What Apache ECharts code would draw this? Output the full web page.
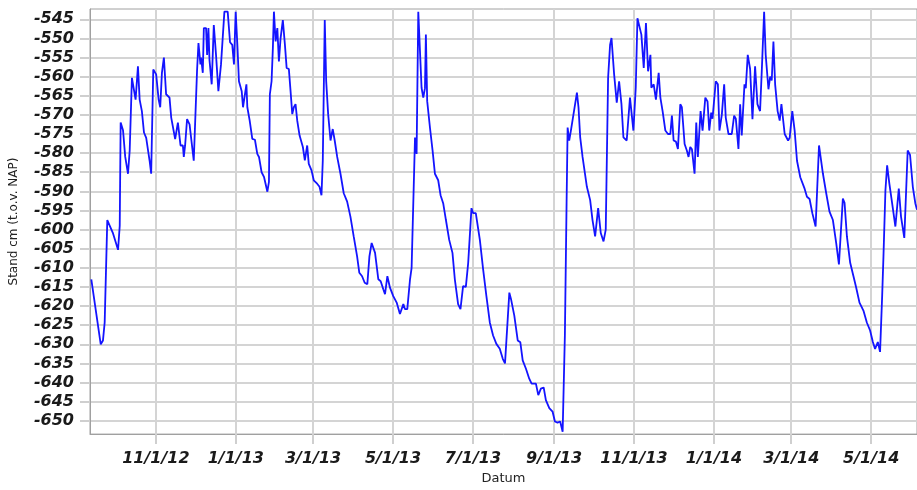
<!DOCTYPE html>
<html>
<head>
<meta charset="utf-8">
<script src="https://cdn.jsdelivr.net/npm/echarts@6/dist/echarts.min.js"></script>
<style>
  html, body { margin: 0; padding: 0; background: #fff; }
  #chart { width: 917px; height: 490px; }
</style>
</head>
<body>
<div id="chart"></div>
<script>
// days since 1 Nov 2012
const days = [-49.3,-42.1,-40.4,-39.1,-37.1,-36,-32.7,-28.9,-27.6,-26.9,-25.1,-23.4,-21.3,-20,-18.3,-16.8,-15.5,-13.7,-12.4,-10.7,-9.1,-7.4,-4.8,-3.6,-2.3,-2,0.2,2.1,3.3,4.6,6.1,7.8,10.4,11.7,14.7,16.8,18.8,20.6,21.3,22.3,23.8,25.7,28.9,31.4,32.5,34,34.5,35.8,36.6,38.3,39.1,40.1,40.9,42.6,44.2,45.9,47.7,49.7,51,52.3,54.8,56.6,58.3,59.6,60.9,62.2,63.4,65.5,66.5,69.1,69.8,71.6,73.6,75.6,77.4,78.7,80.7,82.5,85.1,86.3,87,88.3,89.3,90.1,91.4,92.7,93.9,95.2,96.9,98.5,99.8,101.5,102.8,104.1,105.3,106.6,107.9,109.7,112.2,113.7,115.5,116.7,118.8,120.5,123.1,124.9,126.4,127.4,128.9,130,131.5,133.3,135,136.5,138.4,140.9,143.4,146,148.5,151,153.6,155.3,157.4,159.4,160.4,161.4,163,164.7,167.3,168.5,169.8,171.6,173.6,174.9,176.7,178.7,181.2,183.8,186.3,188.9,190.1,191.9,194,195.2,196.5,197.8,198.5,199,200.3,202.8,204.1,205.4,206.1,207.1,209.2,211.2,213,215.5,217.3,219.3,221.4,223.9,226.4,228.2,230.7,232.5,234.5,236.6,238.4,240.9,242.2,244.2,247.3,249.8,252.3,254.9,257.4,259.9,262.5,264.8,266.5,268,269.8,271.1,273.6,276.2,278.2,280,282.5,285,286.8,290.1,291.9,293.9,296,297.7,300.3,302.8,304.6,306.6,308.6,310.5,312.2,313.5,314.3,315.5,316.8,318.1,318.8,319.8,321.4,322.6,323.9,325.7,326.9,329,331.5,333.3,335.3,337.6,339.6,341.7,343.4,345.2,346.7,347.8,349.8,351.8,353.6,355.4,356.9,359.4,361.9,364.5,366.3,367.6,368.6,370.6,372.4,374.1,375.7,377.5,378.2,380,381.7,383.8,385.1,386.8,388.9,390.9,392.7,393.9,395.2,397,398.5,400.3,401.5,403.6,405.3,406.6,407.9,409.2,411.2,412.5,413.7,415.8,417.3,419.4,421.1,422.4,423.9,424.9,427.4,429,430.2,432,433.8,435,437.1,439.6,441.4,442.7,444.7,446,447.2,449.3,450.3,451.8,453.6,455.4,457.4,459.2,461.2,462.5,464.3,465.5,467.6,468.9,470.1,471.4,472.7,474.6,476.2,477.5,478.7,480,482.6,483.8,485.8,487.6,489.4,491.9,495.2,497,499,501.1,503.6,506.2,507.2,509.2,511.7,514.2,516.8,519.3,521.4,524.4,525.7,527.5,530,532.5,534.6,537.1,540.1,542.7,545.2,547.3,549,551.1,552.8,554.4,555.4,556.9,558.2,559.9,562,564.5,567.1,568.8,571.3,572.6,573.9,575.7,577.8,579.7,581];

// water level, cm relative to NAP
const levels = [-613,-630,-629,-624.3,-597.5,-597,-601,-605.3,-599,-572,-574,-581,-585.4,-579.3,-560.3,-560,-566,-557.3,-566,-569,-574.6,-576,-582,-585.4,-585.4,-558.1,-559.4,-566,-568,-559,-555,-564.6,-565.5,-570.7,-576.3,-572,-578,-578,-581,-578,-571.1,-572.5,-582,-558.6,-551.2,-556.8,-555,-559,-547.3,-547.3,-554.3,-547.3,-555.6,-562,-546.5,-554.3,-563.8,-556.8,-556.8,-543,-543,-551,-551.7,-556.8,-543,-551.7,-561.2,-563.8,-568,-562,-568,-571.5,-576.3,-576.5,-580.2,-581,-585,-586.2,-590.1,-587.5,-564.6,-561.2,-552.5,-543,-550.8,-547.3,-556,-549.9,-545.2,-551.7,-557.7,-558,-563.8,-569.8,-568,-567.2,-571.5,-575.4,-578.4,-581.9,-578,-582.8,-584.5,-587.1,-588,-588.8,-591,-582,-545.2,-561.2,-569.8,-576.7,-573.7,-576.7,-581,-585.4,-590.5,-592.7,-596.6,-601.8,-607,-611.3,-612.2,-613.9,-614.3,-614.3,-607,-603.5,-606.1,-606.5,-613,-613.5,-615.6,-616.9,-612.2,-615.2,-617.4,-619.1,-622.1,-619.5,-620.8,-620.8,-613,-610,-610,-575.9,-576,-580.2,-543,-562.9,-565.5,-563,-549,-566.4,-573.3,-579.3,-585.4,-587.1,-591,-593.1,-597.5,-602.7,-606.1,-613,-619.5,-620.8,-614.8,-615,-608.7,-594.4,-595.7,-595.7,-602.7,-610.4,-617.4,-624.3,-627.7,-629.9,-631.2,-633.8,-635,-634.5,-616.5,-618.2,-622.5,-629,-629.5,-634.2,-636.4,-639,-640.3,-640.3,-643.3,-641.6,-641.3,-644.6,-646.7,-647.6,-650.2,-650.5,-650.2,-652.9,-627.7,-593.1,-573.3,-576.7,-574.1,-574,-569.8,-569.5,-564.2,-568,-575.9,-581,-581,-588.8,-592.3,-597.5,-601.8,-594.4,-600.9,-603.1,-600,-560.3,-551.7,-549.9,-559.4,-566.8,-561.2,-567.2,-575.9,-576.7,-565.5,-574.1,-562.9,-544.7,-544.7,-549,-557.7,-546,-558.6,-554.3,-562.9,-562,-566,-559,-565.5,-569,-574.1,-575,-575,-570.2,-576.7,-577,-578.9,-567.2,-568,-577.6,-579.3,-581,-578.4,-579,-585.4,-572,-581,-569,-574.1,-565.5,-566.5,-574.1,-569.4,-571,-561.2,-562,-574.1,-570,-562,-570.7,-575,-575,-570.2,-571,-578.9,-567.2,-575.4,-562,-563,-554.3,-558,-571.1,-557.3,-567.2,-569,-558.6,-543,-554.3,-563.3,-560,-561,-550.8,-562,-569,-571.5,-567.2,-567.2,-575,-576.7,-576,-569,-574.1,-582,-586.3,-589.3,-591.4,-592,-595.7,-599.2,-578,-578.5,-585.4,-590.5,-595.3,-597.5,-603.5,-609.1,-591.9,-593,-601.8,-608.7,-612.2,-615.2,-619.1,-621.2,-624.3,-626.4,-629.4,-631.2,-629.4,-632,-617.4,-607,-589.7,-583.2,-588,-593.1,-599.2,-589.3,-596.6,-602.2,-602,-579.3,-580.5,-588.8,-593.1,-594.8];

const xTickDates = ['2012-11-01','2013-01-01','2013-03-01','2013-05-01','2013-07-01','2013-09-01','2013-11-01','2014-01-01','2014-03-01','2014-05-01'];
const xTickLabels = ['11/1/12','1/1/13','3/1/13','5/1/13','7/1/13','9/1/13','11/1/13','1/1/14','3/1/14','5/1/14'];
const yTicks = [-545,-550,-555,-560,-565,-570,-575,-580,-585,-590,-595,-600,-605,-610,-615,-620,-625,-630,-635,-640,-645,-650];

const DAY = 86400000;
const base = Date.parse('2012-11-01');
// tick positions on the day axis
const xTicks = xTickDates.map((d) => Math.round((Date.parse(d) - base) / DAY));
const n = Math.min(days.length, levels.length);
const seriesData = [];
for (let i = 0; i < n; i++) {
  seriesData.push([days[i], levels[i]]);
}

const labelFont = {
  fontFamily: 'DejaVu Sans',
  fontWeight: 'bold',
  fontStyle: 'italic',
  fontSize: 16,
  color: '#1a1a1a',
};

const chart = echarts.init(document.getElementById('chart'));
chart.setOption({
  animation: false,
  backgroundColor: '#fff',
  grid: {
    left: 88,
    top: 9,
    right: -1,
    bottom: 52,
    show: true,
    borderColor: '#a0a0a0',
    borderWidth: 1,
  },
  xAxis: {
    type: 'value',
    min: -50.3,
    max: 581,
    name: 'Datum',
    nameLocation: 'middle',
    nameGap: 36,
    nameTextStyle: { fontFamily: 'DejaVu Sans', fontSize: 13, color: '#222' },
    axisLine: { onZero: false, lineStyle: { color: '#a0a0a0', width: 1 } },
    axisTick: {
      customValues: xTicks,
      length: 10,
      lineStyle: { color: '#cfcfcf', width: 2 },
    },
    axisLabel: {
      customValues: xTicks,
      margin: 17,
      ...labelFont,
      formatter: (v) => {
        const i = xTicks.indexOf(Math.round(v));
        return i >= 0 ? xTickLabels[i] : '';
      },
    },
    splitLine: { show: true, lineStyle: { color: '#d4d4d4', width: 2 } },
  },
  yAxis: {
    type: 'value',
    min: -653.5,
    max: -542.3,
    name: 'Stand cm (t.o.v. NAP)',
    nameLocation: 'middle',
    nameGap: 70,
    nameTextStyle: { fontFamily: 'DejaVu Sans', fontSize: 12, color: '#222' },
    axisLine: { show: true, onZero: false, lineStyle: { color: '#a0a0a0', width: 1 } },
    axisTick: {
      show: true,
      customValues: yTicks,
      length: 10,
      lineStyle: { color: '#cfcfcf', width: 2 },
    },
    axisLabel: {
      customValues: yTicks,
      margin: 16,
      ...labelFont,
    },
    splitLine: { show: true, lineStyle: { color: '#d4d4d4', width: 2 } },
  },
  series: [
    {
      type: 'line',
      data: seriesData,
      showSymbol: false,
      lineStyle: { color: '#1414ff', width: 1.8 },
    },
  ],
});
</script>
</body>
</html>
